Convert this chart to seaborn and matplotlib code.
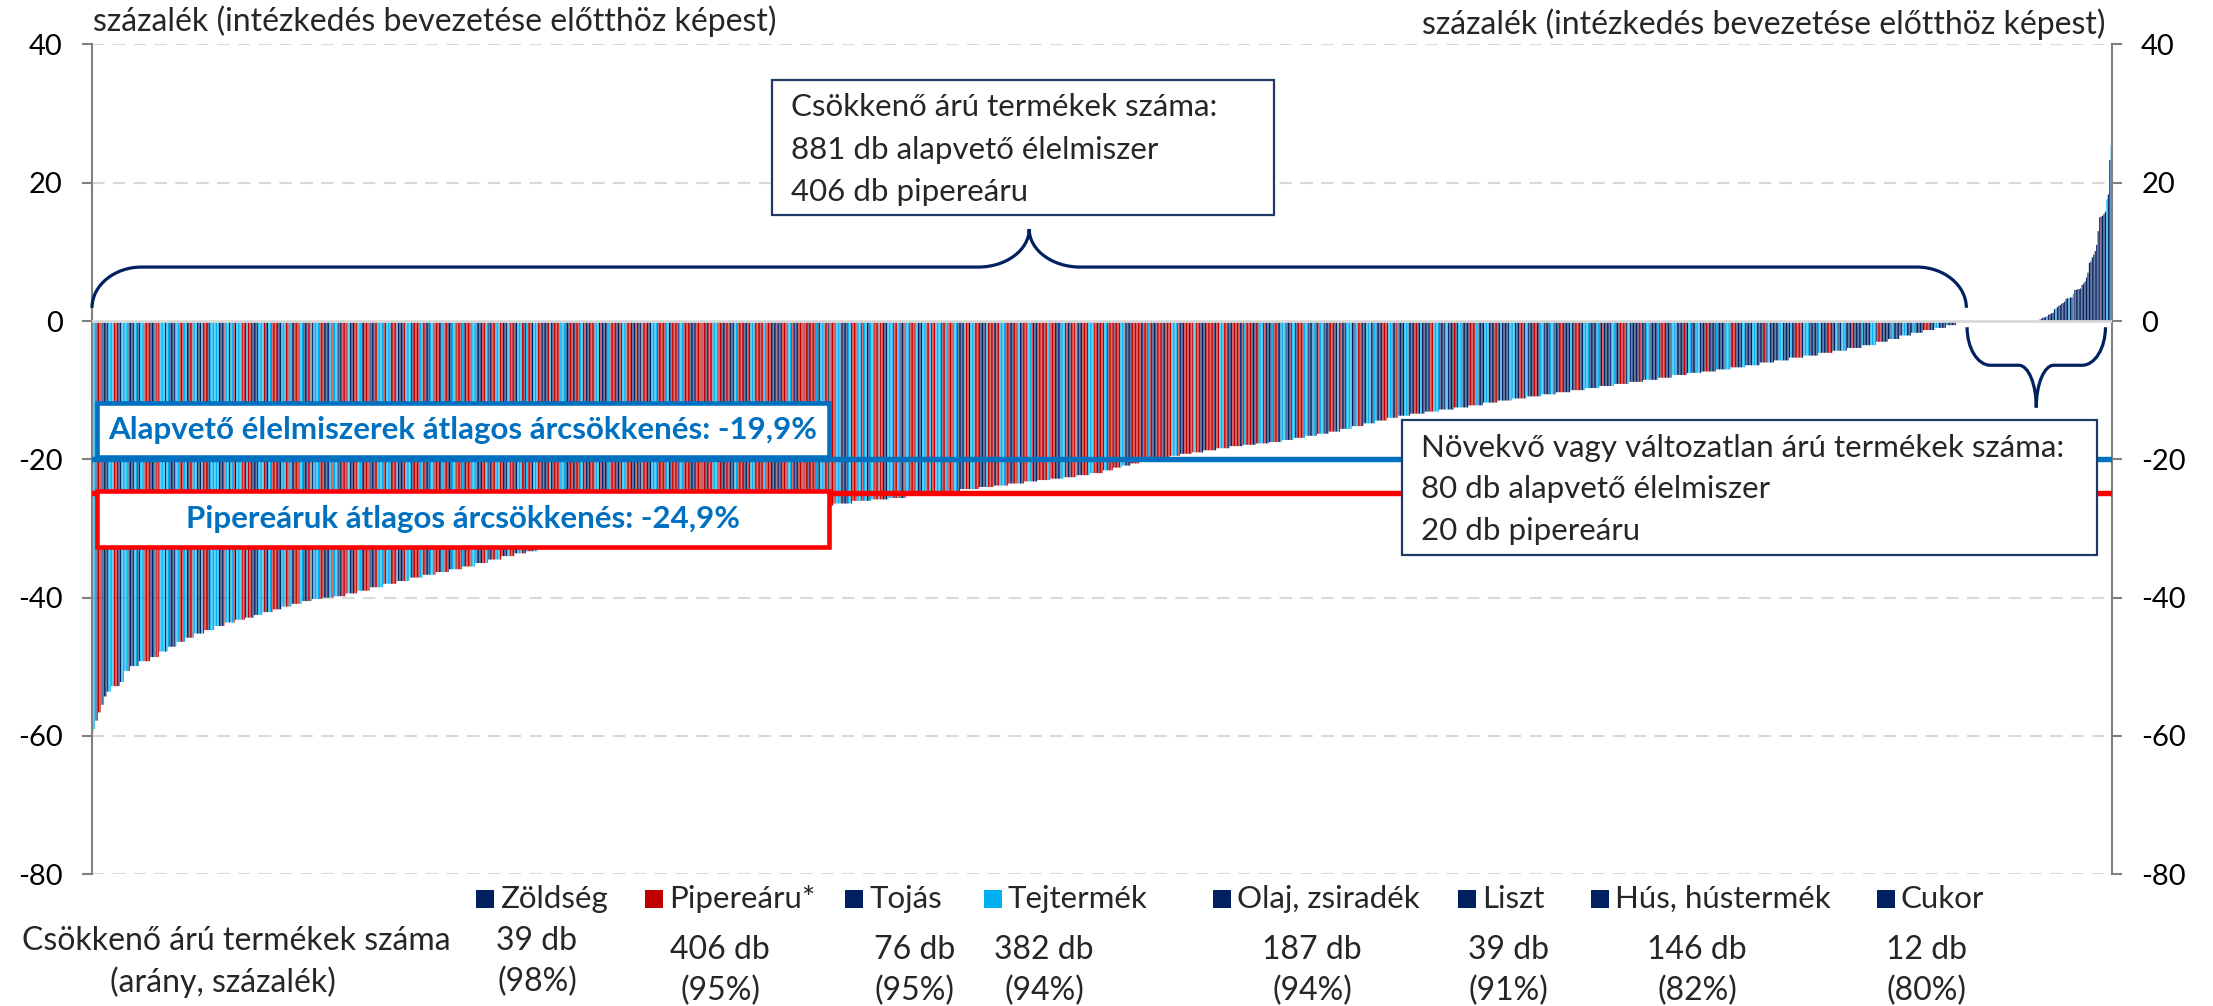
import numpy as np
import pandas as pd
import matplotlib
matplotlib.use("Agg")
import matplotlib.pyplot as plt
import seaborn as sns
from matplotlib.patches import Rectangle, PathPatch
from matplotlib.path import Path

# ------------------------------------------------------------------ data
categories = ["Zöldség", "Pipereáru*", "Tojás", "Tejtermék",
              "Olaj, zsiradék", "Liszt", "Hús, hústermék", "Cukor"]
decreasing_counts = [39, 406, 76, 382, 187, 39, 146, 12]
decreasing_share = [98, 95, 95, 94, 94, 91, 82, 80]
category_group = ["N", "R", "N", "L", "N", "N", "N", "N"]

# sorted price changes of the decreasing products, read as runs
# (number of neighbouring bars, value in %)
dec_run_len = [1, 1, 2, 2, 2, 2, 3, 6, 3, 4,
               6, 8, 6, 6, 6, 6, 6, 7, 7, 7,
               7, 7, 6, 6, 7, 6, 7, 7, 7, 7,
               8, 8, 8, 9, 9, 9, 9, 9, 9, 9,
               9, 9, 9, 9, 9, 8, 8, 9, 10, 10,
               10, 10, 10, 10, 10, 10, 10, 10, 10, 10,
               10, 10, 10, 10, 10, 12, 12, 13, 13, 12,
               12, 13, 12, 12, 13, 10, 10, 11, 9, 9,
               9, 9, 9, 9, 7, 6, 6, 6, 7, 7,
               7, 7, 8, 8, 9, 9, 9, 9, 9, 9,
               8, 8, 8, 8, 8, 8, 8, 8, 8, 8,
               8, 10, 10, 10, 10, 10, 10, 10, 10, 10,
               10, 10, 10, 10, 10, 10, 10, 10, 10, 10,
               10, 10, 10, 10, 10, 10, 10, 10, 10, 10,
               10, 10, 10, 8, 8, 8, 8, 8, 8, 7,
               7]
dec_run_val = [-59.6, -59.0, -57.8, -56.6, -55.5, -54.3, -53.6, -52.8, -52.2, -50.6,
               -49.9, -49.2, -48.6, -47.8, -47.1, -46.4, -45.8, -45.2, -44.7, -44.1,
               -43.6, -43.2, -42.9, -42.5, -42.1, -41.7, -41.3, -40.9, -40.5, -40.2,
               -40.0, -39.8, -39.4, -39.0, -38.5, -38.0, -37.6, -37.1, -36.7, -36.3,
               -35.9, -35.5, -35.0, -34.5, -34.0, -33.6, -33.3, -33.0, -32.7, -32.3,
               -31.9, -31.5, -31.1, -30.7, -30.4, -30.0, -29.7, -29.4, -29.1, -28.7,
               -28.4, -28.1, -27.8, -27.5, -27.2, -26.9, -26.7, -26.4, -26.0, -25.8,
               -25.6, -25.3, -25.0, -24.7, -24.3, -24.0, -23.8, -23.5, -23.2, -23.0,
               -22.8, -22.6, -22.3, -22.0, -21.6, -21.2, -20.9, -20.6, -20.3, -20.0,
               -19.7, -19.5, -19.2, -19.0, -18.7, -18.4, -18.1, -17.9, -17.7, -17.5,
               -17.2, -16.9, -16.6, -16.3, -16.0, -15.6, -15.2, -14.8, -14.4, -14.0,
               -13.7, -13.4, -13.1, -12.8, -12.5, -12.2, -11.8, -11.5, -11.2, -10.9,
               -10.6, -10.3, -10.0, -9.7, -9.4, -9.1, -8.8, -8.5, -8.2, -7.8,
               -7.5, -7.3, -7.0, -6.7, -6.4, -6.0, -5.7, -5.3, -5.0, -4.6,
               -4.3, -3.9, -3.5, -3.0, -2.6, -2.1, -1.7, -1.3, -1.0, -0.6,
               -0.2]

# colour mix of the decreasing bars, per block of 100 bars (red / light blue / navy)
block_red = [22, 32, 37, 42, 52, 36, 47, 56, 26, 17, 16, 12, 11]
block_light = [46, 38, 34, 25, 20, 44, 25, 14, 34, 28, 25, 27, 22]
block_navy = [32, 30, 29, 33, 28, 20, 28, 30, 40, 55, 59, 61, 54]

# unchanged products (0 %) and their colour mix
unchanged_red, unchanged_light, unchanged_navy = 19, 17, 13

# increasing products, sorted
inc_values = [0.1, 0.2, 0.3, 0.5, 0.5, 0.6, 0.7, 0.9, 1.0, 1.1,
              1.2, 1.7, 1.8, 2.0, 2.2, 2.3, 2.5, 2.6, 2.8, 3.2,
              3.3, 3.3, 3.4, 3.4, 3.9, 4.5, 4.5, 4.6, 4.6, 4.7,
              5.2, 5.4, 5.7, 6.3, 7.0, 8.4, 8.6, 9.2, 9.6, 10.1,
              11.0, 13.0, 15.0, 15.1, 15.2, 15.5, 15.8, 17.6, 18.3, 23.3,
              25.3]
inc_groups = ("L" "NNNNN" "L" "NNNNN" "L" "NNNNNNNN" "L" "NN" "L"
              "NNNNNNNNNNNNNNNNN" "R" "NNNN" "L" "NN" "L")

avg_basic = -19.9
avg_toiletry = -24.9
y_ticks = [40, 20, 0, -20, -40, -60, -80]

axis_title = "százalék (intézkedés bevezetése előtthöz képest)"
box_dec_lines = ["Csökkenő árú termékek száma:", "881 db alapvető élelmiszer", "406 db pipereáru"]
box_inc_lines = ["Növekvő vagy változatlan árú termékek száma:", "80 db alapvető élelmiszer", "20 db pipereáru"]
label_basic = "Alapvető élelmiszerek átlagos árcsökkenés: -19,9%"
label_toiletry = "Pipereáruk átlagos árcsökkenés: -24,9%"
row_title = ["Csökkenő árú termékek száma", "(arány, százalék)"]

colors = {"N": "#002060", "R": "#C00000", "L": "#00B0F0"}


def interleave(counts, codes):
    total = sum(counts)
    done = [0] * len(counts)
    out = []
    for k in range(total):
        deficit = [(k + 1) * c / total - d for c, d in zip(counts, done)]
        j = int(np.argmax(deficit))
        out.append(codes[j])
        done[j] += 1
    return out


CHUNK_CYCLE = [2, 3, 1, 4, 2, 3]


def clumped(counts, codes):
    chunks = []
    for ci, c in enumerate(counts):
        lst, left, t = [], c, ci
        while left > 0:
            s = min(CHUNK_CYCLE[t % len(CHUNK_CYCLE)], left)
            lst.append(s)
            left -= s
            t += 1
        chunks.append(lst)
    order = interleave([len(ch) for ch in chunks], list(range(len(codes))))
    ptr = [0] * len(codes)
    out = []
    for j in order:
        out += [codes[j]] * chunks[j][ptr[j]]
        ptr[j] += 1
    return out


dec_values = np.repeat(dec_run_val, dec_run_len)
groups = []
for r, l, n in zip(block_red, block_light, block_navy):
    groups += clumped([r, l, n], ["R", "L", "N"])
groups = groups[:len(dec_values)]
groups += ["N"] * (len(dec_values) - len(groups))
groups += interleave([unchanged_red, unchanged_light, unchanged_navy], ["R", "L", "N"])
groups += list(inc_groups)
n_unch = unchanged_red + unchanged_light + unchanged_navy
values = np.concatenate([dec_values, np.zeros(n_unch), np.array(inc_values)])
n_dec = len(dec_values)
n_all = len(values)
groups = groups[:n_all]

df = pd.DataFrame({"idx": np.arange(n_all), "value": values, "group": groups})

# ------------------------------------------------------------------ figure
sns.set_style("white")
plt.rcParams["font.family"] = ["Lato", "DejaVu Sans"]

W, H = 2213, 1006
fig = plt.figure(figsize=(W / 100, H / 100), dpi=100)
ax = fig.add_axes([92 / W, 1 - 874.2 / H, 2020 / W, 829.8 / H])

sns.barplot(data=df, x="idx", y="value", hue="group", palette=colors,
            dodge=False, native_scale=True, width=0.78, saturation=1,
            legend=False, errorbar=None, linewidth=0, edgecolor="none", ax=ax)
for p in ax.patches:
    p.set_snap(False)

ax.set_xlim(-0.5, n_all - 0.5)
ax.set_ylim(-80, 40)
ax.set_xticks([])
ax.set_xlabel("")
ax.set_ylabel("")
for s in ["top", "bottom"]:
    ax.spines[s].set_visible(False)
for s in ["left", "right"]:
    ax.spines[s].set_visible(True)
    ax.spines[s].set_color("#808080")
    ax.spines[s].set_linewidth(1.5)
ax.set_yticks(y_ticks)
ax.set_yticklabels([str(t) for t in y_ticks])
ax.tick_params(axis="y", left=True, right=True, labelleft=True, labelright=True,
               length=7, width=1.5, color="#808080", labelsize=21, pad=14,
               direction="out", labelcolor="black")

for t in y_ticks:
    if t != 0:
        ax.axhline(t, color="#D9D9D9", lw=1.5, ls=(0, (6, 4)), zorder=0.5)
ax.axhline(0, color="#D9D9D9", lw=2, zorder=3)
ax.axhline(avg_basic, color="#0070C0", lw=3.9, zorder=4)
ax.axhline(avg_toiletry, color="#FF0000", lw=3.9, zorder=4)


def brace(x0, x1, y_arm, y_h, y_tip, w_arm, w_tip, k=0.55):
    xc = (x0 + x1) / 2
    verts = [(x0, y_arm),
             (x0, y_arm + k * (y_h - y_arm)), (x0 + (1 - k) * w_arm, y_h), (x0 + w_arm, y_h),
             (xc - w_tip, y_h),
             (xc - w_tip + k * w_tip, y_h), (xc, y_tip - k * (y_tip - y_h)), (xc, y_tip),
             (xc, y_tip - k * (y_tip - y_h)), (xc + (1 - k) * w_tip, y_h), (xc + w_tip, y_h),
             (x1 - w_arm, y_h),
             (x1 - (1 - k) * w_arm, y_h), (x1, y_arm + k * (y_h - y_arm)), (x1, y_arm)]
    codes = ([Path.MOVETO] + [Path.CURVE4] * 3 + [Path.LINETO] + [Path.CURVE4] * 6
             + [Path.LINETO] + [Path.CURVE4] * 3)
    ax.add_patch(PathPatch(Path(verts, codes), fill=False, edgecolor="#002060",
                           lw=2.3, zorder=5, clip_on=False))


brace(-0.5, n_dec - 0.5, 1.9, 7.8, 13.3, 34, 35)
brace(n_dec, n_all - 5, -0.9, -6.4, -12.5, 16, 12)


def ftext(x, y, s, **kw):
    fig.text(x / W, 1 - y / H, s, **kw)


def fbox(x0, y0, x1, y1, ec, lw):
    fig.add_artist(Rectangle((x0 / W, 1 - y1 / H), (x1 - x0) / W, (y1 - y0) / H,
                             transform=fig.transFigure, facecolor="white",
                             edgecolor=ec, linewidth=lw, zorder=5))


ftext(93, 21, axis_title, ha="left", va="center", fontsize=23)
ftext(2105, 24, axis_title, ha="right", va="center", fontsize=23)

fbox(772, 80, 1274, 215, "#1F3864", 1.6)
for line, y in zip(box_dec_lines, [107, 149.5, 192]):
    ftext(791, y, line, ha="left", va="center", fontsize=22.5, zorder=6)

fbox(1402, 420, 2097, 555, "#1F3864", 1.6)
for line, y in zip(box_inc_lines, [448, 489, 531]):
    ftext(1421, y, line, ha="left", va="center", fontsize=22.5, zorder=6)

fbox(97, 403, 829, 457, "#0070C0", 3.3)
ftext(463, 430, label_basic, ha="center", va="center", fontsize=22.5,
      fontweight="bold", color="#0070C0", zorder=6)
fbox(97, 491, 829, 547, "#FF0000", 3.3)
ftext(463, 519, label_toiletry, ha="center", va="center", fontsize=22.5,
      fontweight="bold", color="#0070C0", zorder=6)

# legend and counts row
legend_sq_x = [476, 645, 845, 984, 1213, 1458, 1591, 1877]
count_x = [537, 720, 915, 1044, 1312, 1508, 1697, 1926]
for i, cat in enumerate(categories):
    x = legend_sq_x[i]
    fig.add_artist(Rectangle((x / W, 1 - 908 / H), 18 / W, 18 / H,
                             transform=fig.transFigure,
                             facecolor=colors[category_group[i]], edgecolor="none"))
    ftext(x + 24, 899, cat, ha="left", va="center", fontsize=22.5)
    y1, y2 = (941, 982) if i == 0 else (950, 991)
    ftext(count_x[i], y1, f"{decreasing_counts[i]} db", ha="center", va="center", fontsize=23)
    ftext(count_x[i], y2, f"({decreasing_share[i]}%)", ha="center", va="center", fontsize=23)

ftext(236, 941, row_title[0], ha="center", va="center", fontsize=23)
ftext(223, 982, row_title[1], ha="center", va="center", fontsize=23)

fig.savefig("out.png", dpi=100)
